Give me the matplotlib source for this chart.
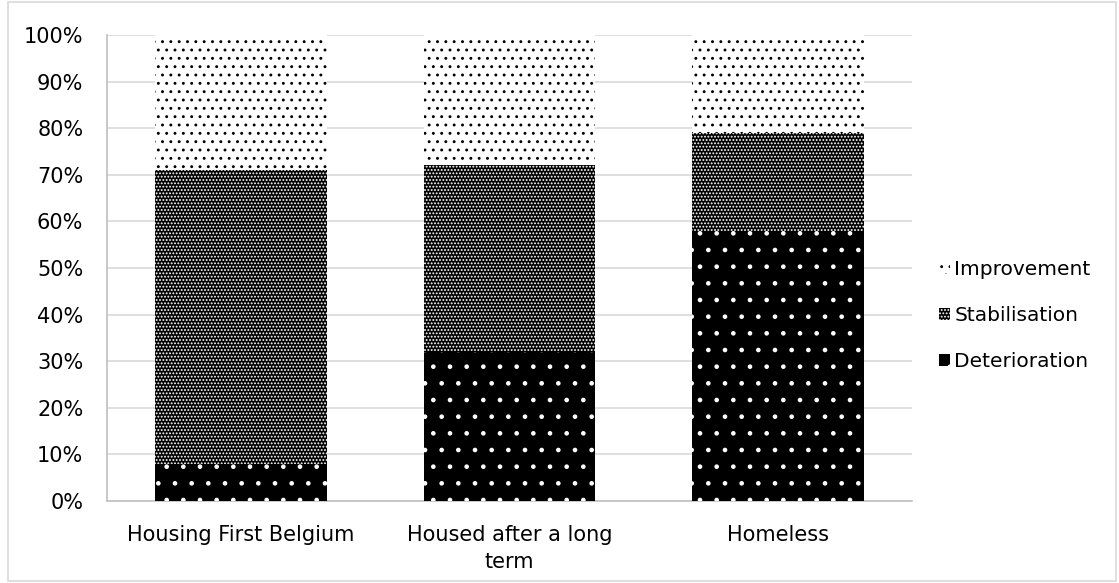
import matplotlib
matplotlib.use("Agg")
import matplotlib.pyplot as plt
from matplotlib.patches import Rectangle, Patch
from matplotlib.ticker import PercentFormatter

# data (percent of each group)
categories = ["Housing First Belgium", "Housed after a long\nterm", "Homeless"]
deterioration = [8, 32, 58]
stabilisation = [63, 40, 21]
improvement = [29, 28, 21]

plt.rcParams['font.family'] = ['DejaVu Sans']
plt.rcParams['hatch.linewidth'] = 0.9

fig = plt.figure(figsize=(11.19, 5.83), dpi=100)
ax = fig.add_axes([0.0956, 0.1407, 0.7194, 0.7993])

x = list(range(len(categories)))
width = 0.64
bottom2 = [d + s for d, s in zip(deterioration, stabilisation)]

# patterns: black hatch on white, white hatch on black
ax.bar(x, deterioration, width, color='black', edgecolor='white',
       hatch='.', linewidth=0, zorder=3)
ax.bar(x, stabilisation, width, bottom=deterioration, color='black',
       edgecolor='white', hatch='.....', linewidth=0, zorder=3)
ax.bar(x, improvement, width, bottom=bottom2, color='white',
       edgecolor='black', hatch='..', linewidth=0, zorder=3)

ax.set_xlim(-0.5, 2.5)
ax.set_ylim(0, 100)
ax.set_yticks(range(0, 101, 10))
ax.yaxis.set_major_formatter(PercentFormatter(decimals=0))
ax.set_xticks(x)
ax.set_xticklabels(categories, fontsize=15, linespacing=1.45)
ax.tick_params(axis='y', labelsize=15, length=0, pad=17)
ax.tick_params(axis='x', length=0, pad=17)
ax.grid(axis='y', color='#d9d9d9', linewidth=1.2, zorder=0)
for side in ['top', 'right']:
    ax.spines[side].set_visible(False)
for side in ['left', 'bottom']:
    ax.spines[side].set_color('#bfbfbf')
    ax.spines[side].set_linewidth(1.2)

# legend with small pattern squares
handles = [
    Patch(facecolor='white', edgecolor='black', hatch='..', linewidth=0, label='Improvement'),
    Patch(facecolor='black', edgecolor='white', hatch='.....', linewidth=0, label='Stabilisation'),
    Patch(facecolor='black', edgecolor='white', hatch='.', linewidth=0, label='Deterioration'),
]
fig.legend(handles=handles, loc='center left', bbox_to_anchor=(0.823, 0.459),
           frameon=False, fontsize=14.5, handlelength=0.55, handleheight=0.55,
           handletextpad=0.2, labelspacing=1.35)

# light border around the whole picture
fig.patches.append(Rectangle((0.007, 0.003), 0.99, 0.994, transform=fig.transFigure,
                             fill=False, edgecolor='#d9d9d9', linewidth=1.2))

fig.savefig("out.png", dpi=100)
